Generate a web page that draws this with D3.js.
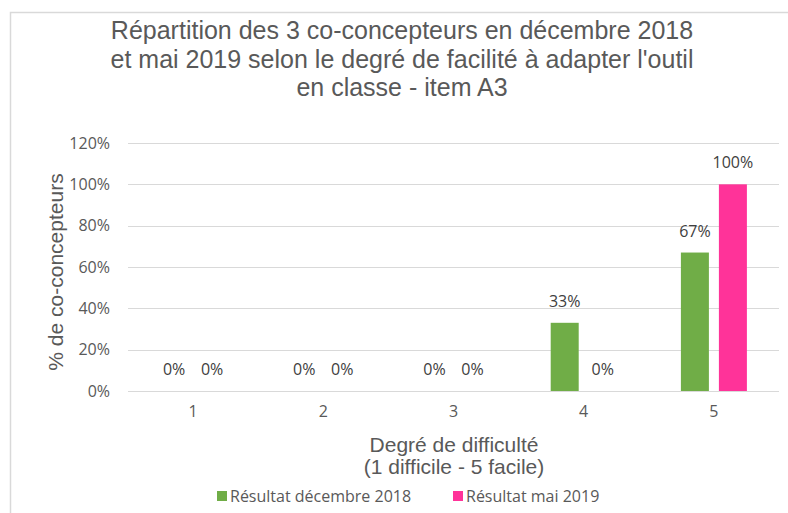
<!DOCTYPE html>
<html>
<head>
<meta charset="utf-8">
<script src="https://cdn.jsdelivr.net/npm/d3@7"></script>
<style>
  body { margin: 0; background: #fff; }
  svg { display: block; font-family: "Liberation Sans", Arial, sans-serif; }
</style>
</head>
<body>
<svg id="chart"></svg>
<script>
const categories = ["1", "2", "3", "4", "5"];
const seriesNames = ["Résultat décembre 2018", "Résultat mai 2019"];
const dec2018 = [0, 0, 0, 0.33, 0.67];
const mai2019 = [0, 0, 0, 0, 1.0];
const yTicks = [0, 0.2, 0.4, 0.6, 0.8, 1.0, 1.2];
const titleLines = [
  "Répartition des 3 co-concepteurs en décembre 2018",
  "et mai 2019 selon le degré de facilité à adapter l'outil",
  "en classe - item A3"
];
const colors = ["#70AD47", "#FF3399"];

const width = 788, height = 513;
const margin = { top: 143, right: 9, bottom: 122, left: 128 };
const smallFont = "'Open Sans', 'Noto Sans', sans-serif";

const svg = d3.select("#chart")
  .attr("width", width)
  .attr("height", height);

// cadre
svg.append("path")
  .attr("d", `M10.5,${height} V12.5 H${width}`)
  .attr("fill", "none")
  .attr("stroke", "#d9d9d9")
  .attr("stroke-width", 1.5);

// titre
svg.append("text")
  .attr("text-anchor", "middle")
  .attr("fill", "#595959")
  .style("font-size", "25px")
  .selectAll("tspan")
  .data(titleLines)
  .join("tspan")
  .attr("x", 402)
  .attr("y", (d, i) => 39 + i * 28.5)
  .text(d => d);

const x = d3.scaleBand()
  .domain(categories)
  .range([margin.left, width - margin.right]);

const x1 = d3.scaleBand()
  .domain([0, 1])
  .range([0, 66])
  .paddingInner(10 / 38);

const y = d3.scaleLinear()
  .domain([0, 1.2])
  .range([height - margin.bottom, margin.top]);

// grille
svg.append("g")
  .selectAll("line")
  .data(yTicks)
  .join("line")
  .attr("x1", margin.left)
  .attr("x2", width - margin.right)
  .attr("y1", d => Math.round(y(d)) + 0.5)
  .attr("y2", d => Math.round(y(d)) + 0.5)
  .attr("stroke", "#d9d9d9")
  .attr("stroke-width", 1);

// axe y
const yAxis = svg.append("g")
  .attr("transform", `translate(${margin.left},0)`)
  .call(d3.axisLeft(y).tickValues(yTicks).tickFormat(d3.format(".0%")).tickSize(0).tickPadding(18));
yAxis.select(".domain").remove();
yAxis.selectAll("text")
  .attr("fill", "#595959")
  .style("font-family", smallFont)
  .style("font-size", "16px");

// axe x
const xAxis = svg.append("g")
  .attr("transform", `translate(0,${y(0)})`)
  .call(d3.axisBottom(x).tickSize(0).tickPadding(15));
xAxis.select(".domain").remove();
xAxis.selectAll("text")
  .attr("fill", "#595959")
  .style("font-family", smallFont)
  .style("font-size", "16px");

// barres
const series = [dec2018, mai2019];
const groups = svg.append("g")
  .selectAll("g")
  .data(categories)
  .join("g")
  .attr("transform", d => `translate(${x(d) + x.bandwidth() / 2 - 33},0)`);

groups.selectAll("rect")
  .data((d, i) => series.map((s, k) => ({ k, v: s[i] })))
  .join("rect")
  .attr("x", d => x1(d.k))
  .attr("width", x1.bandwidth())
  .attr("y", d => y(d.v))
  .attr("height", d => y(0) - y(d.v))
  .attr("fill", d => colors[d.k]);

groups.selectAll("text")
  .data((d, i) => series.map((s, k) => ({ k, v: s[i] })))
  .join("text")
  .attr("x", d => x1(d.k) + x1.bandwidth() / 2)
  .attr("y", d => y(d.v) - 16)
  .attr("text-anchor", "middle")
  .attr("fill", "#404040")
  .style("font-family", smallFont)
  .style("font-size", "16px")
  .text(d => d3.format(".0%")(d.v));

// titres des axes
svg.append("text")
  .attr("transform", `translate(63,${(y(0) + y(1.2)) / 2 + 5}) rotate(-90)`)
  .attr("text-anchor", "middle")
  .attr("fill", "#595959")
  .style("font-size", "21px")
  .text("% de co-concepteurs");

svg.append("text")
  .attr("text-anchor", "middle")
  .attr("fill", "#595959")
  .style("font-size", "21px")
  .selectAll("tspan")
  .data(["Degré de difficulté", "(1 difficile - 5 facile)"])
  .join("tspan")
  .attr("x", 454)
  .attr("y", (d, i) => 452 + i * 22)
  .text(d => d);

// légende
const legendX = [217, 453];
const legend = svg.append("g")
  .selectAll("g")
  .data(seriesNames)
  .join("g")
  .attr("transform", (d, i) => `translate(${legendX[i]},497)`);
legend.append("rect")
  .attr("x", 0).attr("y", -6)
  .attr("width", 10).attr("height", 10)
  .attr("fill", (d, i) => colors[i]);
legend.append("text")
  .attr("x", 13)
  .attr("y", 5)
  .attr("fill", "#595959")
  .style("font-family", smallFont)
  .style("font-size", "16px")
  .text(d => d);
</script>
</body>
</html>
